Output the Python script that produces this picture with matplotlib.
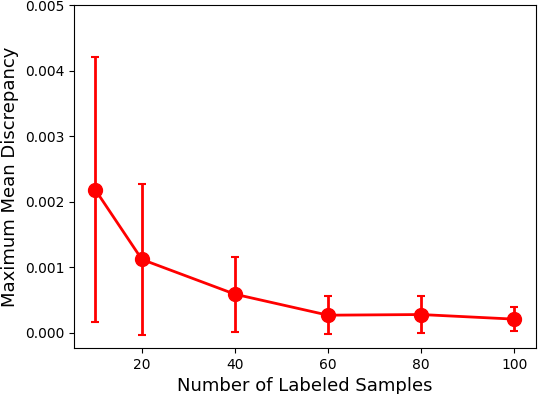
import matplotlib
matplotlib.use("Agg")
import matplotlib.pyplot as plt

n_samples = [10, 20, 40, 60, 80, 100]
mmd_mean = [0.00218, 0.00112, 0.00059, 0.00027, 0.00028, 0.00021]
mmd_err = [0.00202, 0.00115, 0.00057, 0.00029, 0.00028, 0.00018]

fig = plt.figure(figsize=(5.38, 3.94), dpi=100)
ax = fig.add_axes([0.1375, 0.1168, 0.8588, 0.8705])
ax.errorbar(n_samples, mmd_mean, yerr=mmd_err, color='red', marker='o',
            markersize=10, linewidth=2, elinewidth=2, capsize=3, capthick=1.5)
ax.set_xlim(5.4, 104.7)
ax.set_ylim(-0.00023, 0.005)
ax.set_xticks([20, 40, 60, 80, 100])
ax.set_yticks([0.0, 0.001, 0.002, 0.003, 0.004, 0.005])
ax.set_yticklabels(['0.000', '0.001', '0.002', '0.003', '0.004', '0.005'])
ax.tick_params(labelsize=10)
ax.set_xlabel('Number of Labeled Samples', fontsize=13)
ax.set_ylabel('Maximum Mean Discrepancy', fontsize=13)
fig.savefig('out.png', dpi=100)
